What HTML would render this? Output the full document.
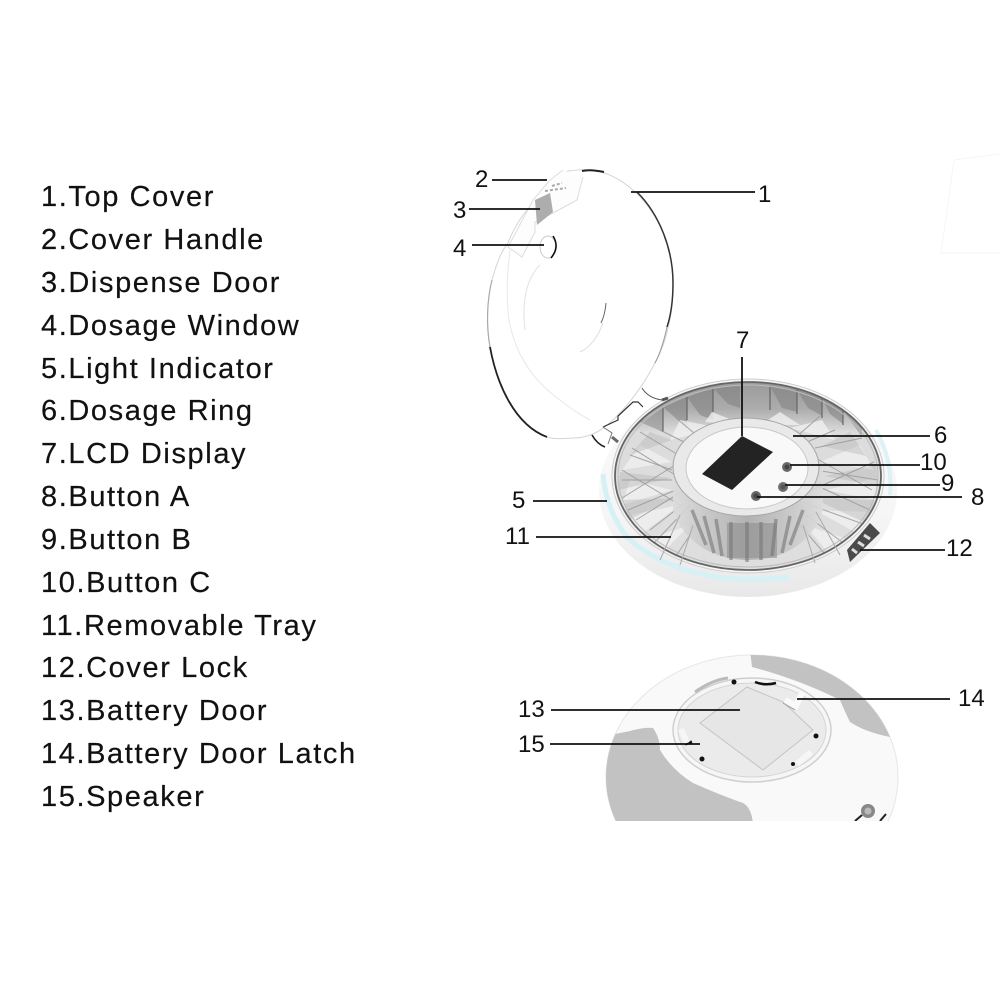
<!DOCTYPE html>
<html><head><meta charset="utf-8"><style>
html,body{margin:0;padding:0;background:#fff}
svg{display:block}
.l text{font:29px "Liberation Sans",sans-serif;letter-spacing:1.6px;fill:#111;stroke:#111;stroke-width:.2}
.n text{font:24px "Liberation Sans",sans-serif;fill:#111}
.c line{stroke:#111;stroke-width:1.8}
</style></head><body>
<svg xmlns="http://www.w3.org/2000/svg" width="1000" height="1000" viewBox="0 0 1000 1000">
<defs>
<linearGradient id="tray" x1="0" y1="0" x2="0" y2="1"><stop offset="0" stop-color="#9a9a9a"/><stop offset=".14" stop-color="#acacac"/><stop offset=".27" stop-color="#dcdcdc"/><stop offset="1" stop-color="#dedede"/></linearGradient>
<linearGradient id="base" x1="0" y1="0" x2="0" y2="1"><stop offset="0" stop-color="#fafafa"/><stop offset=".6" stop-color="#f6f6f6"/><stop offset="1" stop-color="#e8e8e8"/></linearGradient>
<linearGradient id="wall" x1="0" y1="0" x2="1" y2="0"><stop offset="0" stop-color="#dcdcdc"/><stop offset=".25" stop-color="#c4c4c4"/><stop offset=".5" stop-color="#adadad"/><stop offset=".75" stop-color="#c4c4c4"/><stop offset="1" stop-color="#dcdcdc"/></linearGradient>
<clipPath id="bot"><rect x="590" y="640" width="320" height="181"/></clipPath>
<clipPath id="botE"><ellipse cx="752" cy="777" rx="146" ry="122"/></clipPath>
<clipPath id="trayC"><ellipse cx="748" cy="476" rx="133" ry="94"/></clipPath>
</defs>
<path d="M954 160L1000 154M954 160L941 253L1000 253" fill="none" stroke="#f5f5f5"/>

<!-- base -->
<ellipse cx="748" cy="491" rx="149" ry="106" fill="url(#base)"/>
<path d="M603 474Q606 510 627 537Q650 558 680 568Q710 578 740 579Q765 580 790 577" fill="none" stroke="#d6f1f6" stroke-width="5"/>
<path d="M876 430Q893 460 890 495" fill="none" stroke="#dcf2f6" stroke-width="4"/>
<ellipse cx="748" cy="476" rx="136" ry="97" fill="#f5f5f5" stroke="#ccc"/>
<ellipse cx="748" cy="476" rx="133" ry="94" fill="url(#tray)"/>
<g clip-path="url(#trayC)">
<!-- back wall triangles -->
<path d="M663 407L687 397V428Z M687 397L713 388V420L700 415Z M713 388L740 386V408L728 404Z M770 386L797 390V412L782 408Z M797 390L822 398V416L808 408Z M822 398L843 410V424L830 414Z" fill="#7f7f7f" opacity=".55"/>
<path d="M640 422L663 407V432Z M843 410L862 425V437Z" fill="#8a8a8a" opacity=".55"/>
<path d="M663 407V432M687 397V420M713 388V412M770 386V410M797 390V414M822 398V418M843 410V425" stroke="#666" stroke-width="1.6" opacity=".75"/>
<path d="M680 420L720 428L670 440M712 412L745 425L705 422M780 412L760 425L800 425M822 420L790 428L835 440" fill="#f0f0f0" opacity=".8"/>
<!-- floor wedges -->
<path d="M622 470L672 462L640 445ZM622 505L672 490L630 480ZM640 535L680 505L630 515ZM820 462L874 470L860 445ZM826 490L876 500L876 478ZM815 510L860 535L868 512ZM660 555L690 525L645 540ZM830 555L805 525L850 540Z" fill="#f2f2f2" opacity=".75"/>
<path d="M630 455L672 440L650 432ZM618 490L672 478L620 472ZM628 520L676 498L624 500ZM822 446L866 456L850 432ZM824 476L878 486L876 465ZM812 498L870 525L874 500Z" fill="#b5b5b5" opacity=".4"/>
<!-- floor crossing lines -->
<g stroke="#9c9c9c" stroke-width="1" fill="none" opacity=".9">
<path d="M622 498L680 462M622 470L680 505M632 448L680 478M636 520L684 490M640 432L690 462M655 542L690 505M676 556L700 520"/>
<path d="M622 480L672 480M628 510L676 490M630 455L672 470M650 530L682 505"/>
<path d="M812 456L872 490M812 490L874 462M815 470L878 480M810 505L866 525M815 448L862 438M806 515L850 548M800 525L830 560M822 488L870 510"/>
<path d="M660 430L690 445M835 430L800 445M676 418L700 438M820 416L795 438"/>
</g>
</g>
<ellipse cx="748" cy="476" rx="133" ry="94" fill="none" stroke="#666" stroke-width="1.8"/>
<ellipse cx="748" cy="476" rx="130" ry="91" fill="none" stroke="#bbb"/>
<!-- hub wall -->
<path d="M673 467V510C682 540 712 560 748 560C786 560 814 540 823 510V467Z" fill="url(#wall)" opacity=".9"/>
<path d="M727 523H777V558H727Z" fill="#8f8f8f" opacity=".6"/>
<path d="M704 516L714 553M716 519L722 556M731 522V560M747 522V562M761 522V560M776 519L772 556M790 516L782 553M692 510L706 545M803 510L790 545" stroke="#777" stroke-width="3.5" opacity=".6"/>
<path d="M680 515L660 560M816 512L840 555M693 525L680 565M803 525L815 563" stroke="#aaa" stroke-width="1"/>
<ellipse cx="746" cy="467" rx="73" ry="49" fill="#e9e9e9" stroke="#a5a5a5"/>
<ellipse cx="747" cy="468" rx="61" ry="41" fill="#f9f9f9" stroke="#c8c8c8"/>
<path d="M742 436L773 452L732 490L702 474Z" fill="#232323"/>
<circle cx="787" cy="467" r="5" fill="#6a6a6a"/><circle cx="787" cy="467" r="2.5" fill="#444"/>
<circle cx="783" cy="487" r="5" fill="#6f6f6f"/><circle cx="783" cy="487" r="2.5" fill="#555"/>
<circle cx="756" cy="496" r="5" fill="#666"/><circle cx="756" cy="496" r="2.5" fill="#444"/>
<!-- lock -->
<path d="M847 550L870 523L880 533L850 562Z" fill="#4a4a4a"/>
<path d="M852 549L857 553M858 542L864 546M864 535L870 539" stroke="#ddd" stroke-width="3"/>

<!-- top cover -->
<path d="M563 172Q578 169 593 170C635 177 673 225 673 283C673 320 665 345 655 363C640 392 612 428 590 435Q582 438 573 438C560 439 553 439 547 437C515 425 497 385 490 347C486 325 487 300 492 280C497 262 502 250 507 245C515 225 525 210 537 200C545 188 553 178 563 172Z" fill="#fff" stroke="#d5d5d5"/>
<g fill="none">
<path d="M582 171Q590 169 604 172" stroke="#222" stroke-width="2"/>
<path d="M637 192C660 215 673 250 673 283C673 300 671 315 667 327" stroke="#333" stroke-width="1.5"/>
<path d="M490 347C497 385 515 425 547 437" stroke="#222" stroke-width="1.8"/>
<path d="M490 347C486 325 487 300 492 280" stroke="#aaa" stroke-width="1.2"/>
<path d="M667 327Q662 350 655 363" stroke="#999"/>
<path d="M510 250Q505 290 509 320Q518 370 560 400Q575 412 590 420" stroke="#e8e8e8"/>
<path d="M540 265Q520 285 525 330" stroke="#e2e2e2"/>
<path d="M606 303Q605 315 601 323" stroke="#666"/>
<path d="M603 323Q595 345 580 352" stroke="#ddd"/>
<ellipse cx="548" cy="247" rx="8" ry="11" stroke="#ccc"/>
<path d="M553 236Q560 247 551 258" stroke="#111" stroke-width="1.6"/>
<path d="M583 177L577 200L553 213L535 222L535 232L522 257L508 247L533 200L550 180L563 170" stroke="#ddd" fill="#fdfdfd"/>
<path d="M535 200L550 193L553 212L537 225Z" fill="#adadad"/>
<path d="M545 191L566 188M552 186L562 183" stroke="#aaa" stroke-dasharray="3 2" stroke-width="2"/>
<path d="M642 388Q648 398 662 400" stroke="#555"/>
<path d="M592 435Q597 444 605 447" stroke="#222" stroke-width="1.6"/>
<path d="M603 427L618 420L618 416L633 402L638 402L643 407" stroke="#333" stroke-width="1.2"/>
<path d="M608 444L612 433L603 427" stroke="#777"/>
<path d="M662 400L668 398" stroke="#555" stroke-width="3"/>
<path d="M612 437L618 442" stroke="#666" stroke-width="3"/>
</g>

<!-- bottom unit -->
<g clip-path="url(#bot)">
<ellipse cx="752" cy="777" rx="146" ry="122" fill="#f9f9f9" stroke="#e6e6e6"/>
<g clip-path="url(#botE)">
<path d="M750 650H900V738L890 737Q865 732 850 722Q845 712 840 700Q800 680 752 667Z" fill="#c2c2c2"/>
<path d="M600 737L630 731Q645 727 653 728Q660 738 660 750Q672 770 693 783Q720 795 743 803Q752 808 753 825H600Z" fill="#c2c2c2"/>
</g>
<ellipse cx="752" cy="730" rx="79" ry="52" fill="#f6f6f6" stroke="#cfcfcf" stroke-width="1.5"/>
<ellipse cx="752" cy="730" rx="74" ry="47" fill="#ebebeb" stroke="#d4d4d4"/>
<path d="M747 687L783 702L813 730L763 770L700 723Z" fill="#e6e6e6" stroke="#c4c4c4"/>
<circle cx="734" cy="682" r="2.5" fill="#111"/><circle cx="702" cy="759" r="2.5" fill="#111"/><circle cx="816" cy="736" r="2.5" fill="#111"/><circle cx="793" cy="764" r="2" fill="#111"/>
<path d="M755 682Q765 686 776 683" fill="none" stroke="#111" stroke-width="2.5"/>
<path d="M685 744L692 742" stroke="#111" stroke-width="3"/>
<path d="M681 729L687 743" stroke="#f6f6f6" stroke-width="6"/>
<path d="M797 764L811 752" stroke="#f6f6f6" stroke-width="6"/>
<path d="M695 692Q712 680 728 678" fill="none" stroke="#bbb" stroke-width="3"/>
<path d="M785 700L796 706L802 693" fill="none" stroke="#fafafa" stroke-width="6"/>
<path d="M783 703L795 710" stroke="#999"/>
<circle cx="868" cy="811" r="7" fill="#888"/><circle cx="868" cy="811" r="3.5" fill="#bbb"/>
<path d="M855 821L862 815M880 821L886 814" stroke="#222" stroke-width="2"/>
</g>

<!-- connectors -->
<g class="c">
<line x1="631" y1="192" x2="755" y2="192"/>
<line x1="492" y1="180" x2="547" y2="180"/>
<line x1="469" y1="209" x2="540" y2="209"/>
<line x1="472" y1="245" x2="544" y2="245"/>
<line x1="742" y1="357" x2="742" y2="436"/>
<line x1="793" y1="436" x2="930" y2="436"/>
<line x1="790" y1="465" x2="920" y2="465"/>
<line x1="785" y1="485" x2="940" y2="485"/>
<line x1="757" y1="497" x2="962" y2="497"/>
<line x1="533" y1="501" x2="607" y2="501"/>
<line x1="536" y1="537" x2="671" y2="537"/>
<line x1="860" y1="550" x2="945" y2="550"/>
<line x1="551" y1="710" x2="740" y2="710"/>
<line x1="797" y1="699" x2="950" y2="699"/>
<line x1="550" y1="744" x2="700" y2="744"/>
</g>
<g class="n">
<text x="758" y="202">1</text>
<text x="475" y="187">2</text>
<text x="453" y="218">3</text>
<text x="453" y="256">4</text>
<text x="512" y="508">5</text>
<text x="934" y="443">6</text>
<text x="736" y="348">7</text>
<text x="971" y="505">8</text>
<text x="941" y="491">9</text>
<text x="920" y="470">10</text>
<text x="505" y="544">11</text>
<text x="946" y="556">12</text>
<text x="518" y="717">13</text>
<text x="958" y="706">14</text>
<text x="518" y="752">15</text>
</g>
<g class="l">
<text x="41" y="206">1.Top Cover</text>
<text x="41" y="249">2.Cover Handle</text>
<text x="41" y="292">3.Dispense Door</text>
<text x="41" y="335">4.Dosage Window</text>
<text x="41" y="378">5.Light Indicator</text>
<text x="41" y="420">6.Dosage Ring</text>
<text x="41" y="463">7.LCD Display</text>
<text x="41" y="506">8.Button A</text>
<text x="41" y="549">9.Button B</text>
<text x="41" y="592">10.Button C</text>
<text x="41" y="635">11.Removable Tray</text>
<text x="41" y="677">12.Cover Lock</text>
<text x="41" y="720">13.Battery Door</text>
<text x="41" y="763">14.Battery Door Latch</text>
<text x="41" y="806">15.Speaker</text>
</g>
</svg>
</body></html>
